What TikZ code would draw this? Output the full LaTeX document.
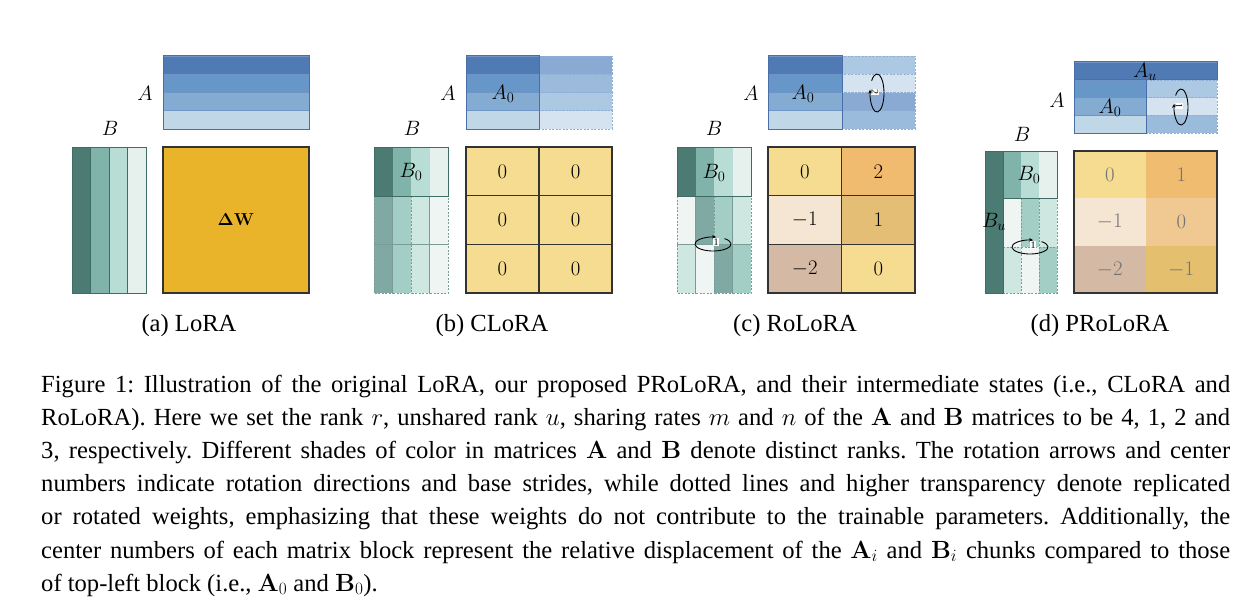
\documentclass[tikz,border=0pt]{standalone}
\usepackage[no-math]{fontspec}
\setmainfont{Liberation Serif}
\usetikzlibrary{arrows.meta}
\definecolor{Ab1}{HTML}{507AB4}
\definecolor{Ab2}{HTML}{6796C8}
\definecolor{Ab3}{HTML}{84ACD2}
\definecolor{Ab4}{HTML}{C0D7E8}
\definecolor{At1}{HTML}{8AAAD3}
\definecolor{At2}{HTML}{9ABBDC}
\definecolor{At3}{HTML}{ACC8E2}
\definecolor{At4}{HTML}{D5E3F0}
\definecolor{Aln}{HTML}{6E95C6}
\definecolor{Aout}{HTML}{4A6FA8}
\definecolor{Adash}{HTML}{8EAFD6}
\definecolor{Bb1}{HTML}{4B7B72}
\definecolor{Bb2}{HTML}{80B3A9}
\definecolor{Bb3}{HTML}{B7DDD5}
\definecolor{Bb4}{HTML}{E6F1EE}
\definecolor{Bt1}{HTML}{7FA9A2}
\definecolor{Bt2}{HTML}{A3CEC5}
\definecolor{Bt3}{HTML}{CEE7E1}
\definecolor{Bt4}{HTML}{EEF5F3}
\definecolor{Bout}{HTML}{3F6C64}
\definecolor{Bdash}{HTML}{7A9C96}
\definecolor{DW}{HTML}{EAB42A}
\definecolor{Yz}{HTML}{F5DC91}
\definecolor{Otwo}{HTML}{F0BB6E}
\definecolor{Pm}{HTML}{F5E6D4}
\definecolor{Gone}{HTML}{E3BE74}
\definecolor{Rm}{HTML}{D4BAA5}
\definecolor{Oone}{HTML}{F0BC70}
\definecolor{Ozero}{HTML}{F0C892}
\definecolor{Gm}{HTML}{E3BF6E}
\definecolor{Mline}{HTML}{333333}
\begin{document}
\frenchspacing
\begin{tikzpicture}[x=1pt,y=-1pt,
  arow/.style={fill=#1,draw=Aln,line width=0.7},
  atr/.style={fill=#1,draw=Adash,line width=0.7,dash pattern=on 2pt off 1.5pt},
  aouter/.style={draw=Aout,line width=1},
  brow/.style={fill=#1,draw=Bout,line width=0.7},
  btr/.style={fill=#1,draw=Bdash,line width=0.7,dash pattern=on 2pt off 1.5pt},
  bouter/.style={draw=Bout,line width=1},
  cellbox/.style={fill=#1,draw=Mline,line width=1.2},
  cellfree/.style={fill=#1},
  mouter/.style={draw=Mline,line width=1.4},
  lbl/.style={font=\fontsize{20.5}{24}\selectfont,inner sep=0pt},
  num/.style={font=\fontsize{20}{24}\selectfont,inner sep=0pt},
  gnum/.style={font=\fontsize{20}{24}\selectfont,inner sep=0pt,text=black!55},
  rotarr/.style={line width=0.9,-{Stealth[length=4pt,width=3.5pt]}},
  rotlbl/.style={font=\fontsize{10}{11}\selectfont,fill=white,inner sep=0.8pt},
  sub/.style={font=\fontsize{24.6}{28}\selectfont,anchor=base,inner sep=0pt},
  capline/.style={font=\fontsize{24.6}{33}\selectfont,anchor=base west,inner sep=0pt}]
\useasboundingbox[fill=white] (0,0) rectangle (1256,610);

% ---------------- (a) LoRA ----------------
\foreach \c [count=\i from 0] in {Ab1,Ab2,Ab3,Ab4}
  \draw[arow=\c] (163,56+\i*18.25) rectangle (309,74.25+\i*18.25);
\draw[aouter] (163,56) rectangle (309,129);
\foreach \c [count=\i from 0] in {Bb1,Bb2,Bb3,Bb4}
  \draw[brow=\c] (72+\i*18.5,147) rectangle (90.5+\i*18.5,293);
\draw[bouter] (72,147) rectangle (146,293);
\draw[mouter,fill=DW] (163,147) rectangle (309,293);
\node[lbl] (aA) at (145,93) {$A$};
\node[lbl] (aB) at (110,128) {$B$};
\node[font=\fontsize{17.5}{20}\selectfont,inner sep=0pt] (aW) at (236,220) {$\mathbf{\Delta W}$};
\node[sub] (asub) at (189,331) {(a) LoRA};

% ---------------- (b) CLoRA ----------------
\foreach \c [count=\i from 0] in {At1,At2,At3,At4}
  \draw[atr=\c] (539,56+\i*18.25) rectangle (612,74.25+\i*18.25);
\foreach \c [count=\i from 0] in {Ab1,Ab2,Ab3,Ab4}
  \draw[arow=\c] (466,56+\i*18.25) rectangle (539,74.25+\i*18.25);
\draw[aouter] (466,56) rectangle (539,129);
\foreach \r in {0,1}
  \foreach \c [count=\i from 0] in {Bt1,Bt2,Bt3,Bt4}
    \draw[btr=\c] (374+\i*18.5,196+\r*48.5) rectangle (392.5+\i*18.5,244.5+\r*48.5);
\foreach \c [count=\i from 0] in {Bb1,Bb2,Bb3,Bb4}
  \draw[fill=\c,draw=none] (374+\i*18.5,147) rectangle (392.5+\i*18.5,196);
\draw[bouter] (374,147) rectangle (448,196);
\foreach \r in {0,1,2}
  \foreach \k in {0,1}
    \draw[cellbox=Yz] (466+\k*73,147+\r*48.67) rectangle (539+\k*73,195.67+\r*48.67)
      node[num,midway] (bm\r\k) {$0$};
\draw[mouter] (466,147) rectangle (612,293);
\node[lbl] (bA) at (448,93) {$A$};
\node[lbl] (bA0) at (503,94) {$A_0$};
\node[lbl] (bB) at (412,128) {$B$};
\node[lbl] (bB0) at (411,172) {$B_0$};
\node[sub] (bsub) at (492,331) {(b) CLoRA};

% ---------------- (c) RoLoRA ----------------
\foreach \c [count=\i from 0] in {At3,At4,At1,At2}
  \draw[atr=\c] (842,56+\i*18.25) rectangle (915,74.25+\i*18.25);
\foreach \c [count=\i from 0] in {Ab1,Ab2,Ab3,Ab4}
  \draw[arow=\c] (768,56+\i*18.25) rectangle (842,74.25+\i*18.25);
\draw[aouter] (768,56) rectangle (842,129);
\foreach \c [count=\i from 0] in {Bt4,Bt1,Bt2,Bt3}
  \draw[btr=\c] (677+\i*18.5,196) rectangle (695.5+\i*18.5,244.5);
\foreach \c [count=\i from 0] in {Bt3,Bt4,Bt1,Bt2}
  \draw[btr=\c] (677+\i*18.5,244.5) rectangle (695.5+\i*18.5,293);
\foreach \c [count=\i from 0] in {Bb1,Bb2,Bb3,Bb4}
  \draw[fill=\c,draw=none] (677+\i*18.5,147) rectangle (695.5+\i*18.5,196);
\draw[bouter] (677,147) rectangle (751,196);
\foreach \r/\k/\c/\v in {0/0/Yz/0, 0/1/Otwo/2, 1/0/Pm/-1, 1/1/Gone/1, 2/0/Rm/-2, 2/1/Yz/0}
  \draw[cellbox=\c] (768+\k*73.5,147+\r*48.67) rectangle (841.5+\k*73.5,195.67+\r*48.67)
    node[num,midway] (cm\r\k) {$\v$};
\draw[mouter] (768,147) rectangle (915,293);
\node[lbl] (cA) at (751,93) {$A$};
\node[lbl] (cA0) at (803,94) {$A_0$};
\node[lbl] (cB) at (714,128) {$B$};
\node[lbl] (cB0) at (714,173) {$B_0$};
\coordinate (cArc) at (877,93);
\draw[rotarr] ([shift={(-140:7 and 19)}]cArc) arc[start angle=-140,end angle=190,x radius=7,y radius=19];
\node[rotlbl,rotate=-90] (cAl) at (875,92) {2};
\coordinate (cBrc) at (713,244);
\draw[rotarr] ([shift={(-50:18 and 7)}]cBrc) arc[start angle=-50,end angle=280,x radius=18,y radius=7];
\node[rotlbl] (cBl) at (716,242) {1};
\node[sub] (csub) at (795,331) {(c) RoLoRA};

% ---------------- (d) PRoLoRA ----------------
\draw[arow=Ab1] (1074,62) rectangle (1217,80);
\foreach \c [count=\i from 0] in {At3,At4,At2}
  \draw[atr=\c] (1146,80+\i*17.67) rectangle (1217,97.67+\i*17.67);
\foreach \c [count=\i from 0] in {Ab2,Ab3,Ab4}
  \draw[arow=\c] (1074,80+\i*17.67) rectangle (1146,97.67+\i*17.67);
\draw[aouter] (1074,80) rectangle (1146,133);
\draw[aouter] (1074,62) rectangle (1217,80);
\foreach \c [count=\i from 0] in {Bt4,Bt2,Bt3}
  \draw[btr=\c] (1003+\i*18,198) rectangle (1021+\i*18,247);
\foreach \c [count=\i from 0] in {Bt3,Bt4,Bt2}
  \draw[btr=\c] (1003+\i*18,247) rectangle (1021+\i*18,293);
\foreach \c [count=\i from 0] in {Bb2,Bb3,Bb4}
  \draw[fill=\c,draw=none] (1003+\i*18,151) rectangle (1021+\i*18,198);
\draw[bouter] (1003,151) rectangle (1057,198);
\draw[bouter,fill=Bb1] (985,151) rectangle (1003,293);
\foreach \r/\k/\c/\v in {0/0/Yz/0, 0/1/Oone/1, 1/0/Pm/-1, 1/1/Ozero/0, 2/0/Rm/-2, 2/1/Gm/-1}
  \fill[cellfree=\c] (1074+\k*71.5,151+\r*47.33) rectangle (1145.5+\k*71.5,198.33+\r*47.33)
    node[gnum,midway] (dm\r\k) {$\v$};
\draw[mouter] (1074,151) rectangle (1217,293);
\node[lbl] (dA) at (1057,100) {$A$};
\node[lbl] (dAu) at (1145,72) {$A_u$};
\node[lbl] (dA0) at (1110,108) {$A_0$};
\node[lbl] (dB) at (1022,134) {$B$};
\node[lbl] (dB0) at (1029,175) {$B_0$};
\node[lbl] (dBu) at (994,222) {$B_u$};
\coordinate (dArc) at (1181,107);
\draw[rotarr] ([shift={(-140:7 and 18)}]dArc) arc[start angle=-140,end angle=190,x radius=7,y radius=18];
\node[rotlbl,rotate=-90] (dAl) at (1179,106) {1};
\coordinate (dBrc) at (1030,247);
\draw[rotarr] ([shift={(-50:18 and 7)}]dBrc) arc[start angle=-50,end angle=280,x radius=18,y radius=7];
\node[rotlbl] (dBl) at (1033,245) {1};
\node[sub] (dsub) at (1100,331) {(d) PRoLoRA};

% ---------------- caption ----------------
\node[capline] (cap1) at (41,392) {\makebox[1189pt][s]{Figure 1: Illustration of the original LoRA, our proposed PRoLoRA, and their intermediate states (i.e., CLoRA and}};
\node[capline] (cap2) at (41,425.2) {\makebox[1189pt][s]{RoLoRA). Here we set the rank $r$, unshared rank $u$, sharing rates $m$ and $n$ of the $\mathbf{A}$ and $\mathbf{B}$ matrices to be 4, 1, 2 and}};
\node[capline] (cap3) at (41,458.4) {\makebox[1189pt][s]{3, respectively. Different shades of color in matrices $\mathbf{A}$ and $\mathbf{B}$ denote distinct ranks. The rotation arrows and center}};
\node[capline] (cap4) at (41,491.6) {\makebox[1189pt][s]{numbers indicate rotation directions and base strides, while dotted lines and higher transparency denote replicated}};
\node[capline] (cap5) at (41,524.8) {\makebox[1189pt][s]{or rotated weights, emphasizing that these weights do not contribute to the trainable parameters. Additionally, the}};
\node[capline] (cap6) at (41,558) {\makebox[1189pt][s]{center numbers of each matrix block represent the relative displacement of the $\mathbf{A}_i$ and $\mathbf{B}_i$ chunks compared to those}};
\node[capline] (cap7) at (41,591.2) {of top-left block (i.e., $\mathbf{A}_0$ and $\mathbf{B}_0$).};
\end{tikzpicture}
\end{document}
